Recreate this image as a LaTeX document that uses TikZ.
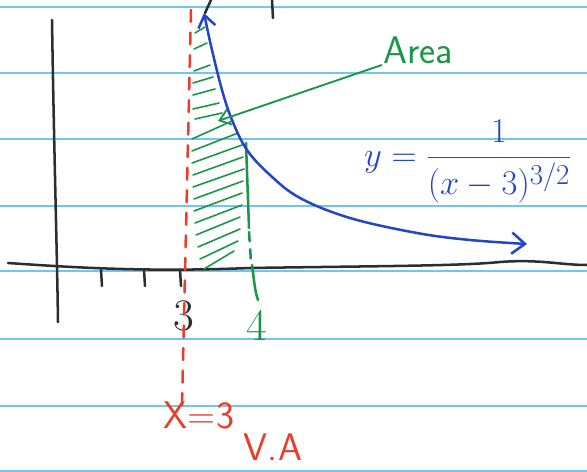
\documentclass[tikz,border=0pt]{standalone}
\usepackage{fontspec}
\usepackage{amsmath}
\usepackage{graphicx}
\usepackage{tikz}
\usetikzlibrary{positioning, arrows, arrows.meta}

\definecolor{paperline}{RGB}{110,200,235}
\definecolor{inkblack}{RGB}{45,45,45}
\definecolor{inkblue}{RGB}{35,70,200}
\definecolor{inkgreen}{RGB}{25,150,70}
\definecolor{inkred}{RGB}{235,60,40}

\tikzset{
  rule/.style={paperline, line width=1.2pt},
  pen/.style={line width=1.9pt, line cap=round, line join=round},
  hatch/.style={inkgreen, line width=1.2pt, line cap=round},
  bothbarbs/.style={{Straight Barb[length=9pt,width=13pt]}-{Straight Barb[length=10pt,width=16pt]}},
  hand/.style={font=\sffamily\fontsize{29}{29}\selectfont, inner sep=1pt}
}

\begin{document}
\begin{tikzpicture}[x=0.0265cm, y=-0.0265cm]
\useasboundingbox (0,0) rectangle (587,471);
\fill[white] (0,0) rectangle (587,471);

% ruled paper
\foreach \yy in {7,73,139,206,271,339,406,471}
  \draw[rule] (0,\yy) -- (587,\yy);

% bits of the line above
\draw[pen, inkblack] (211,0) -- (205,13);
\draw[pen, inkblack] (272,0) -- (273,18);

% axes
\draw[pen, inkblack] (52,20) .. controls (54,150) and (57,250) .. (58,322);
\draw[pen, inkblack] (8,263) .. controls (80,268) and (150,272) .. (250,268)
  .. controls (380,266) and (460,266) .. (500,262) .. controls (540,259) and (560,265) .. (587,265);
\foreach \xx in {101,144,180}
  \draw[pen, inkblack] (\xx,270) -- (\xx+1,286);
\node[font=\fontsize{34}{34}\selectfont, text=inkblack, inner sep=0pt] (three) at (184,316) {3};

% vertical asymptote
\draw[pen, inkred, dash pattern=on 9pt off 8pt] (191,10) -- (182,405);
\node[hand, text=inkred] (vaeq) at (199,415) {X=3};
\node[hand, text=inkred] (va) at (273,447) {V.A};

% shaded area (hatching)
\foreach \y/\a/\b in {30/195/205, 46/194/207, 68/194/210, 80/193/213, 92/193/215, 106/193/219, 116/195/222}
  \draw[hatch] (\a,\y+3) -- (\b,\y-3);
\foreach \y/\a/\b in {130/192/232, 142/192/238, 154/192/242, 166/193/243, 178/193/244, 190/194/243,
  202/194/242, 214/195/242, 226/196/240, 238/198/240, 250/200/238, 260/204/234}
  \draw[hatch] (\a,\y+9) -- (\b,\y-9);

% x = 4
\draw[pen, inkgreen] (246,143) -- (249,228);
\draw[pen, inkgreen, dash pattern=on 7pt off 6pt] (249,232) -- (251,262);
\draw[pen, inkgreen] (252,265) .. controls (254,280) and (255,292) .. (258,300);
\node[font=\fontsize{34}{34}\selectfont, text=inkgreen, inner sep=0pt] (four) at (257,325) {4};

% the curve
\draw[pen, inkblue, bothbarbs] plot[smooth, tension=0.6] coordinates
  {(204,13) (212,50) (222,90) (232,120) (247,150) (270,175) (300,198)
   (350,218) (417,233) (470,240) (527,244)};
\node[text=inkblue, inner sep=0pt] (func) at (468,162)
  {\scalebox{1.05}{\Huge $y=\dfrac{1}{(x-3)^{3/2}}$}};

% label for the area
\node[hand, text=inkgreen] (area) at (418,50) {Area};
\coordinate (areatip) at (218,121);
\draw[pen, inkgreen, line width=1.4pt, -{Straight Barb[length=8pt,width=12pt]}] (area.south west) -- (areatip);
\end{tikzpicture}
\end{document}
